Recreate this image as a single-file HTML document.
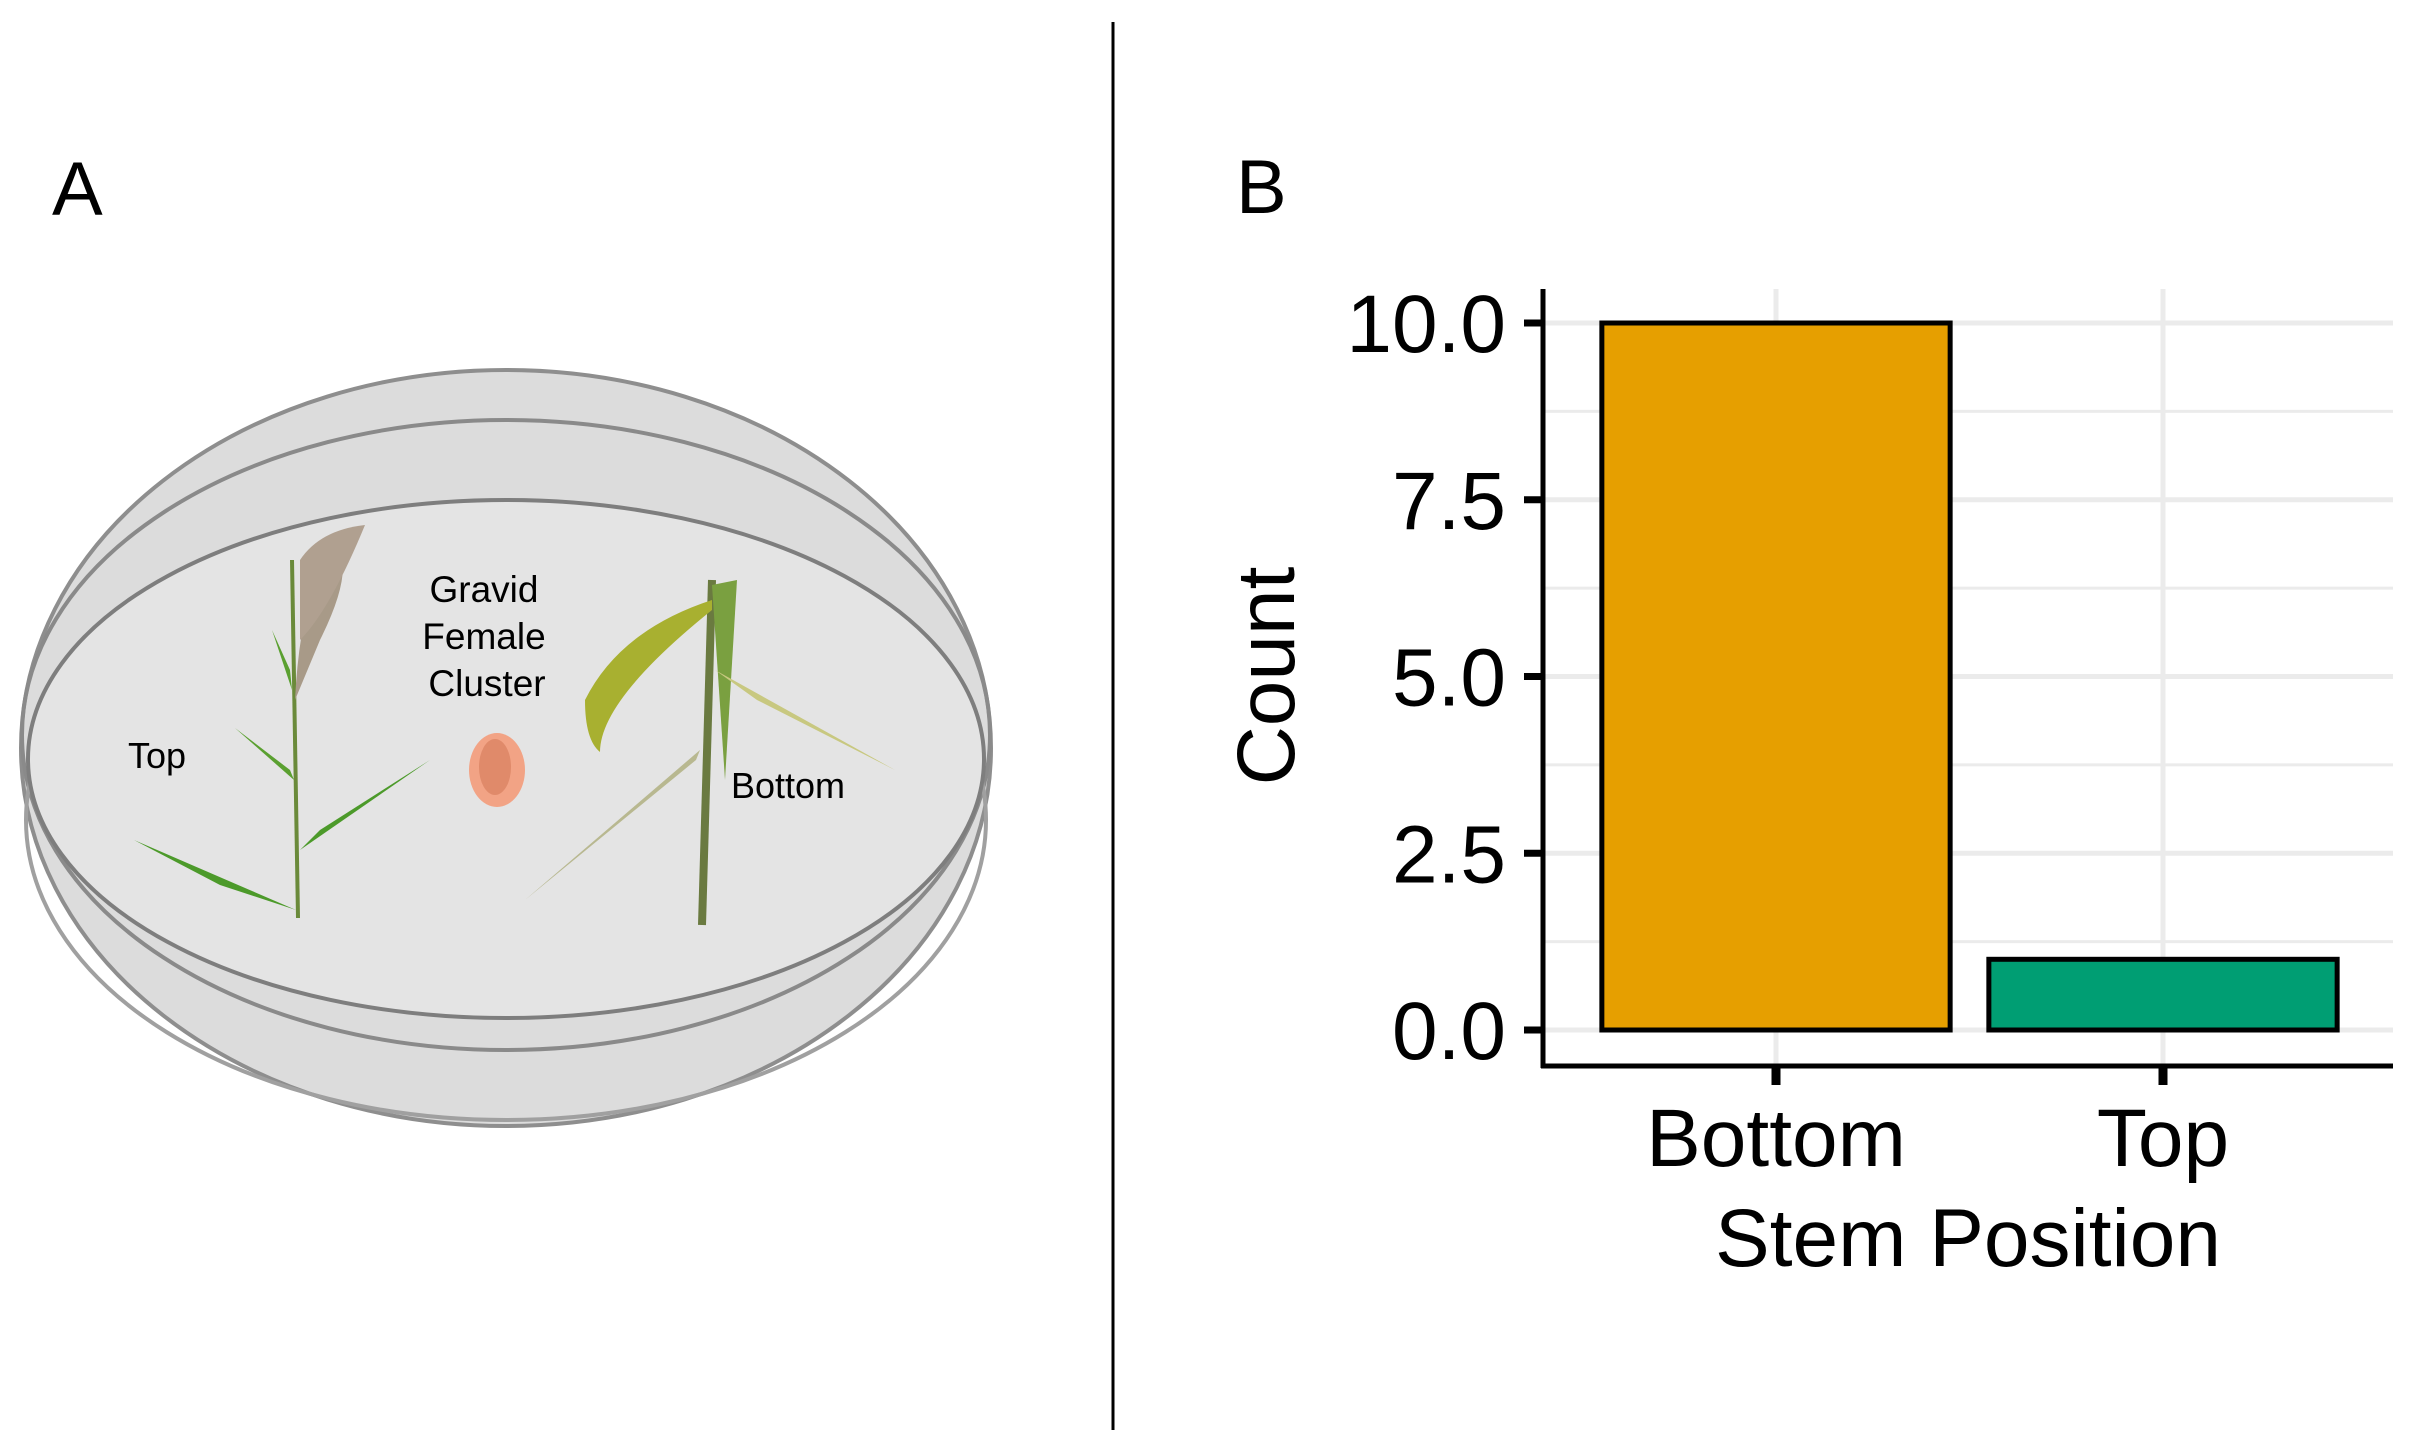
<!DOCTYPE html>
<html><head><meta charset="utf-8"><style>
html,body{margin:0;padding:0;background:#fff;}
svg{display:block;font-family:"Liberation Sans",Arial,sans-serif;}
</style></head><body>
<svg id="fig" width="2434" height="1447" viewBox="0 0 2434 1447">
<g>
<text x="52" y="215" font-size="76">A</text>
<g fill="none" stroke="#8e8e8e" stroke-width="4">
<ellipse cx="506" cy="748" rx="485" ry="378" fill="#dcdcdc"/>
<ellipse cx="506" cy="735" rx="484" ry="315" stroke="#8a8a8a"/>
<ellipse cx="506" cy="820" rx="480" ry="300" stroke="#a0a0a0"/>
<ellipse cx="506" cy="759" rx="478" ry="259" fill="#e4e4e4" stroke="#7e7e7e"/>
</g>
<g>
<line x1="298" y1="918" x2="292" y2="560" stroke="#6a8a3a" stroke-width="4"/>
<path d="M295,700 Q300,600 330,540 Q360,560 320,640 Z" fill="#a89a88"/>
<path d="M300,560 Q320,530 365,525 Q330,610 300,640 Z" fill="#b0a090"/>
<path d="M296,910 L134,840 L220,885 Z" fill="#4c9a2a"/>
<path d="M300,850 L430,760 L320,830 Z" fill="#4c9a2a"/>
<path d="M294,780 L235,728 L290,770 Z" fill="#5aa030"/>
<path d="M292,690 L272,630 L290,670 Z" fill="#5aa030"/>
</g>
<g>
<line x1="702" y1="925" x2="712" y2="580" stroke="#6a7a40" stroke-width="8"/>
<path d="M712,585 L737,580 L725,780 Z" fill="#7aa040"/>
<path d="M712,600 Q620,630 585,700 Q585,740 600,752 Q600,700 712,610 Z" fill="#a8b030"/>
<path d="M715,670 L895,770 L757,700 Z" fill="#c8c880"/>
<path d="M700,750 L525,900 L696,760 Z" fill="#b8b890"/>
</g>
<g>
<ellipse cx="497" cy="770" rx="28" ry="37" fill="#f2a385"/>
<ellipse cx="495" cy="767" rx="16" ry="28" fill="#e08a6a"/>
</g>
<text x="157" y="768" font-size="36" text-anchor="middle">Top</text>
<g font-size="37" text-anchor="middle">
<text x="484" y="602">Gravid</text><text x="484" y="649">Female</text><text x="487" y="696">Cluster</text>
</g>
<text x="788" y="798" font-size="36" text-anchor="middle">Bottom</text>
</g>
<line x1="1113" y1="22" x2="1113" y2="1430" stroke="#000" stroke-width="3"/>
<g id="panelB">
<text x="1236" y="213" font-size="76">B</text>
</g>
</svg>
<script>
const categories = ["Bottom", "Top"];
const counts = [10, 1];
const yTicks = [0, 2.5, 5, 7.5, 10];
const yTickLabels = ["0.0", "2.5", "5.0", "7.5", "10.0"];
const colors = ["#E69F00", "#009E73"];

const NS = "http://www.w3.org/2000/svg";
const g = document.getElementById("panelB");
const x0 = 1543, x1 = 2393, yTop = 289, yBase = 1066;
const y = v => 1030 - v * (1030 - 323) / 10;
const band = 387, firstCenter = 1776;
const x = i => firstCenter + i * band;
function mk(tag, attrs, parent) {
  const e = document.createElementNS(NS, tag);
  for (const k in attrs) e.setAttribute(k, attrs[k]);
  (parent || g).appendChild(e);
  return e;
}
for (let v = 0; v <= 10.01; v += 1.25) {
  const l = mk("line", {x1: x0, x2: x1, y1: y(v), y2: y(v), stroke: "#ebebeb", "stroke-width": (v % 2.5 === 0) ? 5 : 3});
  
  
}
categories.forEach((c, i) => {
  const l = mk("line", {x1: x(i), x2: x(i), y1: yTop, y2: yBase, stroke: "#ebebeb", "stroke-width": 5});
  
  
});
categories.forEach((c, i) => {
  const w = band * 0.9;
  const r = mk("rect", {x: x(i) - w / 2, y: y(counts[i]), width: w, height: y(0) - y(counts[i]), fill: colors[i], stroke: "#000", "stroke-width": 5});
  
  
});
const ya = mk("line", {x1: x0, x2: x0, y1: yTop, y2: yBase + 2, stroke: "#000", "stroke-width": 5});


const xa = mk("line", {x1: x0 - 2, x2: x1, y1: yBase, y2: yBase, stroke: "#000", "stroke-width": 5});


yTicks.forEach((v, i) => {
  const t = mk("line", {x1: x0 - 19, x2: x0, y1: y(v), y2: y(v), stroke: "#000", "stroke-width": 7});
  
  
  const tx = mk("text", {x: 1506, y: y(v) + 29, "font-size": 82, "text-anchor": "end"});
  tx.textContent = yTickLabels[i];
  
  
});
categories.forEach((c, i) => {
  const t = mk("line", {x1: x(i), x2: x(i), y1: yBase, y2: yBase + 19, stroke: "#000", "stroke-width": 9});
  
  
  const tx = mk("text", {x: x(i), y: 1166, "font-size": 82, "text-anchor": "middle"});
  tx.textContent = c;
  
  
});
const xt = mk("text", {x: 1968, y: 1266, "font-size": 82, "text-anchor": "middle"});
xt.textContent = "Stem Position";


const yt = mk("text", {x: 0, y: 0, "font-size": 82, "text-anchor": "middle", transform: "translate(1294,676) rotate(-90)"});
yt.textContent = "Count";


</script>
</body></html>
